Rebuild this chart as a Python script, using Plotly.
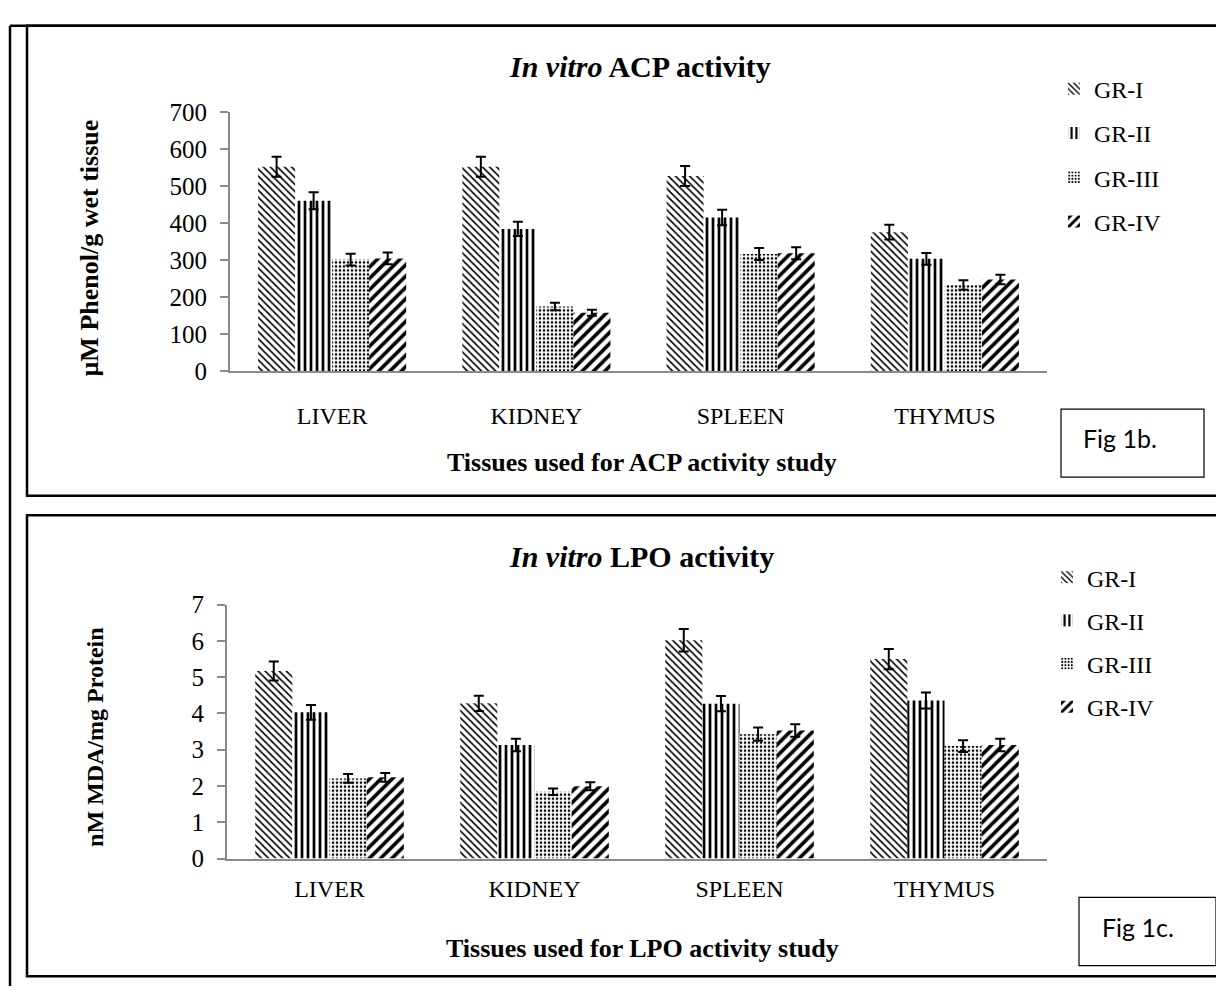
import plotly.graph_objects as go

# page is rendered with an 8px body margin; work in page pixels and convert
OFF = 8
W, H = 1216, 991

tissues = ["LIVER", "KIDNEY", "SPLEEN", "THYMUS"]
groups = ["GR-I", "GR-II", "GR-III", "GR-IV"]

# ACP activity (µM Phenol/g wet tissue)
acp_gr1 = [553, 553, 528, 376]
acp_gr2 = [461, 385, 416, 304]
acp_gr3 = [302, 175, 317, 233]
acp_gr4 = [305, 158, 319, 248]
acp_err1 = [27, 27, 27, 20]
acp_err2 = [23, 19, 21, 16]
acp_err3 = [16, 10, 16, 13]
acp_err4 = [16, 8, 16, 13]

# LPO activity (nM MDA/mg Protein)
lpo_gr1 = [5.17, 4.28, 6.02, 5.50]
lpo_gr2 = [4.03, 3.13, 4.27, 4.36]
lpo_gr3 = [2.21, 1.84, 3.43, 3.10]
lpo_gr4 = [2.24, 1.99, 3.53, 3.13]
lpo_err1 = [0.26, 0.21, 0.31, 0.28]
lpo_err2 = [0.20, 0.17, 0.21, 0.22]
lpo_err3 = [0.12, 0.09, 0.18, 0.16]
lpo_err4 = [0.12, 0.11, 0.17, 0.17]

acp_vals = [acp_gr1, acp_gr2, acp_gr3, acp_gr4]
acp_errs = [acp_err1, acp_err2, acp_err3, acp_err4]
lpo_vals = [lpo_gr1, lpo_gr2, lpo_gr3, lpo_gr4]
lpo_errs = [lpo_err1, lpo_err2, lpo_err3, lpo_err4]

patterns = [
    dict(shape="\\", size=5, solidity=0.33),
    dict(shape="|", size=6, solidity=0.45),
    dict(shape=".", size=4, solidity=0.33),
    dict(shape="/", size=8, solidity=0.45),
]

SERIF = "Liberation Serif, Times New Roman, serif"
SANS = "Lato, Carlito, Calibri, sans-serif"


def px(x):
    return (x - OFF) / W


def py(y):
    return 1 - (y - OFF) / H


fig = go.Figure()

for i, g in enumerate(groups):
    pat = dict(fgcolor="black", bgcolor="white", fillmode="replace", **patterns[i])
    fig.add_trace(go.Bar(
        x=tissues, y=acp_vals[i], name=g,
        marker=dict(color="white", line=dict(width=0), pattern=pat),
        error_y=dict(type="data", array=acp_errs[i], color="black", thickness=2, width=5),
        xaxis="x", yaxis="y", legend="legend", legendgroup="a" + g,
    ))
for i, g in enumerate(groups):
    pat = dict(fgcolor="black", bgcolor="white", fillmode="replace", **patterns[i])
    fig.add_trace(go.Bar(
        x=tissues, y=lpo_vals[i], name=g,
        marker=dict(color="white", line=dict(width=0), pattern=pat),
        error_y=dict(type="data", array=lpo_errs[i], color="black", thickness=2, width=5),
        xaxis="x2", yaxis="y2", legend="legend2", legendgroup="b" + g,
    ))

axis_gray = "#8a8a8a"
xcommon = dict(showgrid=False, showline=True, linecolor=axis_gray, linewidth=2,
               ticks="", tickfont=dict(family=SERIF, size=24, color="black"),
               range=[-0.5, 3.5], fixedrange=True)
ycommon = dict(showgrid=False, showline=True, linecolor=axis_gray, linewidth=2,
               ticks="outside", ticklen=8, tickwidth=2, tickcolor=axis_gray,
               tickfont=dict(family=SERIF, size=25, color="black"),
               ticklabelstandoff=8, zeroline=False, fixedrange=True)

shapes = []


def line(x0, y0, x1, y1, w=2.5):
    shapes.append(dict(type="line", xref="paper", yref="paper", x0=px(x0), x1=px(x1),
                       y0=py(y0), y1=py(y1), line=dict(color="black", width=w)))


def rect(x0, y0, x1, y1, w=2.5):
    shapes.append(dict(type="rect", xref="paper", yref="paper", x0=px(x0), x1=px(x1),
                       y0=py(y1), y1=py(y0), line=dict(color="black", width=w)))


# outer frame
line(10, 13, 10, 1000)
line(10, 13, 1224, 13)
# panel frames
rect(27, 13, 1222, 496)
rect(27, 516, 1222, 990)
# Fig label boxes
rect(1061, 407, 1204, 477, 1.2)
rect(1079, 909, 1216, 979, 1.2)

ann = []


def A(text, x, y, size, angle=0, family=SERIF):
    ann.append(dict(text=text, x=px(x), y=py(y), xref="paper", yref="paper", showarrow=False,
                    xanchor="center", yanchor="middle", textangle=angle,
                    font=dict(family=family, size=size, color="black")))


A("<b><i>In vitro</i> ACP activity</b>", 640, 55, 30)
A("<b><i>In vitro</i> LPO activity</b>", 641, 559, 30)
A("<b>µM Phenol/g wet tissue</b>", 90, 242, 26, angle=-90)
A("<b>nM MDA/mg Protein</b>", 95, 744, 24, angle=-90)
A("<b>Tissues used for ACP activity study</b>", 642, 462, 26)
A("<b>Tissues used for LPO activity study</b>", 642, 961, 26)
A("Fig 1b.", 1120, 437, 25, family=SANS)
A("Fig 1c.", 1138, 939, 25, family=SANS)

legend_common = dict(font=dict(family=SERIF, size=24, color="black"), bgcolor="rgba(0,0,0,0)",
                     traceorder="grouped", itemwidth=30, xanchor="left", yanchor="top")

fig.update_layout(
    width=W, height=H,
    margin=dict(l=0, r=0, t=0, b=0),
    paper_bgcolor="white", plot_bgcolor="white",
    barmode="group", bargap=0.275, bargroupgap=0,
    xaxis=dict(domain=[px(230), px(1047)], anchor="y", ticklabelstandoff=22, **xcommon),
    yaxis=dict(domain=[py(368), py(102)], anchor="x", range=[0, 700], dtick=100, **ycommon),
    xaxis2=dict(domain=[px(227), px(1047)], anchor="y2", ticklabelstandoff=8, **xcommon),
    yaxis2=dict(domain=[py(869), py(608)], anchor="x2", range=[0, 7], dtick=1, **ycommon),
    legend=dict(x=px(1054), y=py(55), tracegroupgap=10, **legend_common),
    legend2=dict(x=px(1047), y=py(557), tracegroupgap=9, **legend_common),
    shapes=shapes,
    annotations=ann,
    showlegend=True,
)

fig.write_html("out.html")
